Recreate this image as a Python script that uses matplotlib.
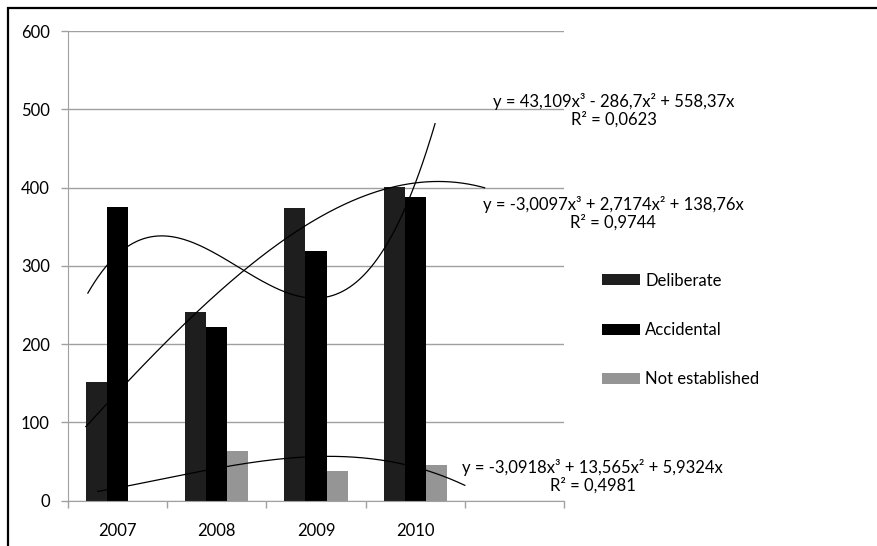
import numpy as np
import matplotlib
matplotlib.use("Agg")
from matplotlib import pyplot as plt
from matplotlib.patches import Rectangle

plt.rcParams['font.family'] = ['Lato', 'DejaVu Sans']

# datos
anios = ["2007", "2008", "2009", "2010", ""]
deliberate = [152, 241, 374, 401]
accidental = [375, 222, 319, 388]
not_established = [0, 64, 38, 46]

# tendencias polinomicas (orden 3, sin intercepto) tal como aparecen en el grafico
coef_accidental = [43.109, -286.7, 558.37, 0]
coef_deliberate = [-3.0097, 2.7174, 138.76, 0]
coef_not_est = [-3.0918, 13.565, 5.9324, 0]
rango_accidental = (0.7, 4.2)
rango_deliberate = (0.68, 4.7)
rango_not_est = (0.8, 4.5)

W, H = 878, 546
fig = plt.figure(figsize=(W / 100, H / 100), dpi=100)

# marco de la imagen (solo se ven borde superior e izquierdo)
fig.patches.append(Rectangle((8 / W, -0.1), 1.2, (H - 8) / H + 0.1, transform=fig.transFigure,
                             fill=False, edgecolor="black", linewidth=1.6))

x0, x1, y0, y1 = 68, 564, 31, 500.7
ax = fig.add_axes([x0 / W, (H - y1) / H, (x1 - x0) / W, (y1 - y0) / H])

x = np.arange(1, len(deliberate) + 1)
ancho = 0.212
ax.bar(x - ancho, deliberate, ancho, color="#1e1e1e", label="Deliberate", zorder=2)
ax.bar(x, accidental, ancho, color="#000000", label="Accidental", zorder=2)
ax.bar(x + ancho, not_established, ancho, color="#959595", label="Not established", zorder=2)

for coef, rango in [(coef_accidental, rango_accidental),
                    (coef_deliberate, rango_deliberate),
                    (coef_not_est, rango_not_est)]:
    xs = np.linspace(rango[0], rango[1], 200)
    ax.plot(xs, np.polyval(coef, xs), color="black", linewidth=0.9, zorder=3, clip_on=False)

ax.set_xlim(0.5, len(anios) + 0.5)
ax.set_ylim(0, 600)
ax.set_yticks(range(0, 601, 100))
ax.yaxis.grid(True, color="#a0a0a0", linewidth=1.0, zorder=0)
ax.set_axisbelow(True)

ax.set_xticks(np.arange(1, len(anios) + 1))
ax.set_xticklabels(anios)
ax.set_xticks(np.arange(0.5, len(anios) + 1), minor=True)
ax.tick_params(axis="x", which="major", length=0, pad=16, labelsize=12)
ax.tick_params(axis="x", which="minor", length=5, color="#a0a0a0", width=1)
ax.tick_params(axis="y", length=5, color="#a0a0a0", width=1, pad=8, labelsize=12)

for lado in ["top", "right"]:
    ax.spines[lado].set_visible(False)
ax.spines["left"].set_color("#a0a0a0")
ax.spines["bottom"].set_color("#a0a0a0")

ax.legend(loc="center left", bbox_to_anchor=(602 / W, 1 - 330 / H), bbox_transform=fig.transFigure,
          frameon=False, fontsize=12, handlelength=2.3, handleheight=0.65, labelspacing=2.0,
          handletextpad=0.3, borderaxespad=0, borderpad=0)

etiquetas = [
    ("y = 43,109x³ - 286,7x² + 558,37x\nR² = 0,0623", 614, 110),
    ("y = -3,0097x³ + 2,7174x² + 138,76x\nR² = 0,9744", 613, 213.5),
    ("y = -3,0918x³ + 13,565x² + 5,9324x\nR² = 0,4981", 592.5, 476.5),
]
for texto, px, py in etiquetas:
    fig.text(px / W, 1 - py / H, texto, ha="center", va="center", multialignment="center",
             fontsize=12, linespacing=1.1)

fig.savefig("out.png", dpi=100)
